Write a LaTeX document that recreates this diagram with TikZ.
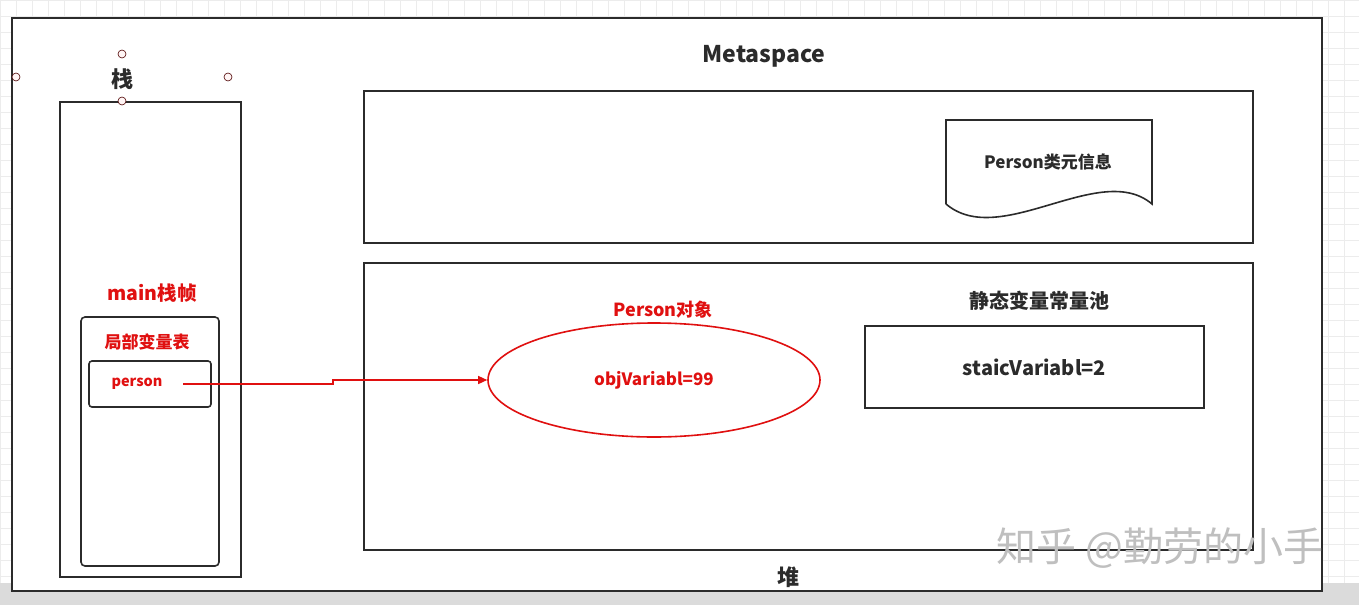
\documentclass[tikz,border=0pt]{standalone}
\usepackage{fontspec}
\setmainfont{Noto Sans CJK SC}
\usepackage{xcolor}
\usepackage{tikz}
\usetikzlibrary{shapes, arrows.meta, positioning, calc}

\definecolor{objred}{HTML}{E01010}
\definecolor{framegray}{HTML}{2B2B2B}
\definecolor{gridgray}{HTML}{ECECEC}

\begin{document}
\begin{tikzpicture}[
        x=1pt, y=-1pt,
        box/.style={rectangle, draw=framegray, line width=1.6pt, inner sep=0pt},
        label/.style={inner sep=0pt, font=\bfseries\fontsize{#1}{#1}\selectfont, text=framegray},
        redlabel/.style={inner sep=0pt, font=\bfseries\fontsize{#1}{#1}\selectfont, text=objred},
        arrow/.style={-{Triangle[length=9pt, width=8pt]}, line width=1.4pt, draw=objred},
        handle/.style={circle, draw=black!70!red, fill=red!4, line width=0.6pt, minimum size=8pt, inner sep=0pt}
    ]
    % Canvas
    \useasboundingbox (0,0) rectangle (1359,605);
    \fill[white] (0,0) rectangle (1359,605);
    \draw[gridgray, line width=0.8pt, step=16pt] (0,0) grid (1359,605);
    \fill[gray!28] (0,583) rectangle (1359,605);

    % Outer frame
    \node[box, fill=white, minimum width=1310pt, minimum height=573pt] (frame) at (667,304.5) {};

    % Stack
    \node[box, minimum width=181pt, minimum height=475pt] (stack) at (150.5,339.5) {};
    \node[label=22] (stacktitle) at (122,79) {栈};
    \node[handle] (h1) at (122,54) {};
    \node[handle] (h2) at (16,77) {};
    \node[handle] (h3) at (228,77) {};
    \node[handle] (h4) at (122,101) {};
    \node[redlabel=19.5] (mainframe) at (152,293) {main栈帧};
    \node[box, rounded corners=4pt, minimum width=138pt, minimum height=249pt] (lvt) at (150,441.5) {};
    \node[redlabel=17] (lvttitle) at (147,342) {局部变量表};
    \node[box, rounded corners=3pt, minimum width=122pt, minimum height=46pt] (personbox) at (150,384) {};
    \node[redlabel=14.5] (person) at (137,384) {person};
    \coordinate (ptr) at (183,384);

    % Metaspace
    \node[label=23] (metatitle) at (764,56) {Metaspace};
    \node[box, minimum width=889pt, minimum height=152pt] (meta) at (808.5,167) {};
    \node[label=17] (classinfo) at (1048,162) {Person类元信息};
    \draw[framegray, line width=1.6pt] (946,204) -- (946,120) -- (1152,120) -- (1152,204)
        .. controls (1100,160) and (1000,250) .. (946,204);

    % Heap
    \node[box, minimum width=889pt, minimum height=287pt] (heap) at (808.5,406.5) {};
    \node[label=22] (heaptitle) at (788,577) {堆};
    \node[redlabel=18] (objtitle) at (663,310) {Person对象};
    \node[ellipse, draw=objred, line width=1.6pt, minimum width=332pt, minimum height=114pt, inner sep=0pt,
          font=\bfseries\fontsize{17}{17}\selectfont, text=objred] (obj) at (654,380) {objVariabl=99};
    \node[label=20] (pooltitle) at (1039,301) {静态变量常量池};
    \node[box, minimum width=339pt, minimum height=82pt, font=\bfseries\fontsize{20}{20}\selectfont, text=framegray] (pool) at (1034.5,367) {staicVariabl=2};

    % Reference
    \draw[arrow] (ptr) -- ++(150,0) -- ++(0,-4) -- (obj.west);

    % Watermark
    \node[inner sep=0pt, font=\fontsize{40}{40}\selectfont, text=gray!50] (mark) at (1160,548) {知乎 @勤劳的小手};

\end{tikzpicture}
\end{document}
